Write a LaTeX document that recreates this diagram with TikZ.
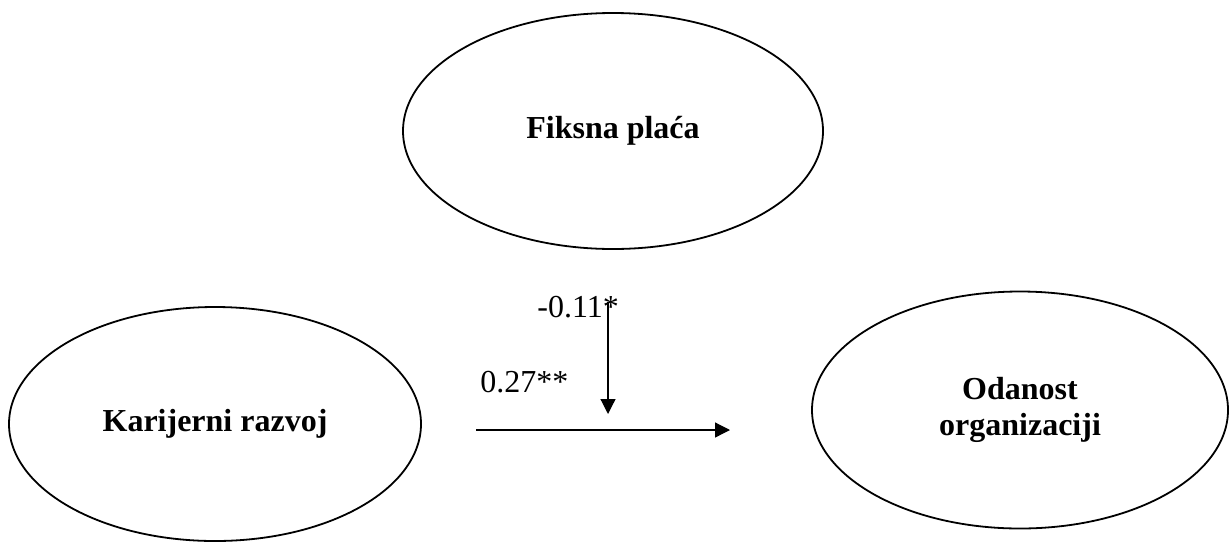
\documentclass[tikz,border=0pt]{standalone}
\usepackage{fontspec}
\setmainfont{Liberation Serif}
\usetikzlibrary{shapes.geometric,arrows.meta}
\begin{document}
\begin{tikzpicture}[x=0.5pt,y=-0.5pt,>={Triangle[length=7.5pt,width=7.5pt]},
  latent/.style={ellipse,draw,line width=0.9pt,inner sep=0pt,font=\fontsize{16}{18}\selectfont\bfseries,align=center},
  coef/.style={anchor=base west,inner sep=0pt,font=\fontsize{16}{18}\selectfont}]
\useasboundingbox (0,0) rectangle (1229,541);
\node[latent,minimum width=210pt,minimum height=118pt] (fiksna) at (613,131) {Fiksna plaća};
\node[latent,minimum width=206pt,minimum height=117pt] (karijera) at (215,424) {Karijerni razvoj};
\node[latent,minimum width=208pt,minimum height=118.5pt] (odanost) at (1020,410) {Odanost\\organizaciji};
\coordinate (hstart) at (476,430);
\coordinate (hend) at (730,430);
\coordinate (vstart) at (608,302);
\coordinate (vend) at (608,414);
\draw[->,line width=0.6pt] (hstart) -- (hend);
\draw[->,line width=0.6pt] (vstart) -- (vend);
\node[coef] (moder) at (537,317) {-0.11*};
\node[coef] (glavni) at (480,392) {0.27**};
\end{tikzpicture}
\end{document}
